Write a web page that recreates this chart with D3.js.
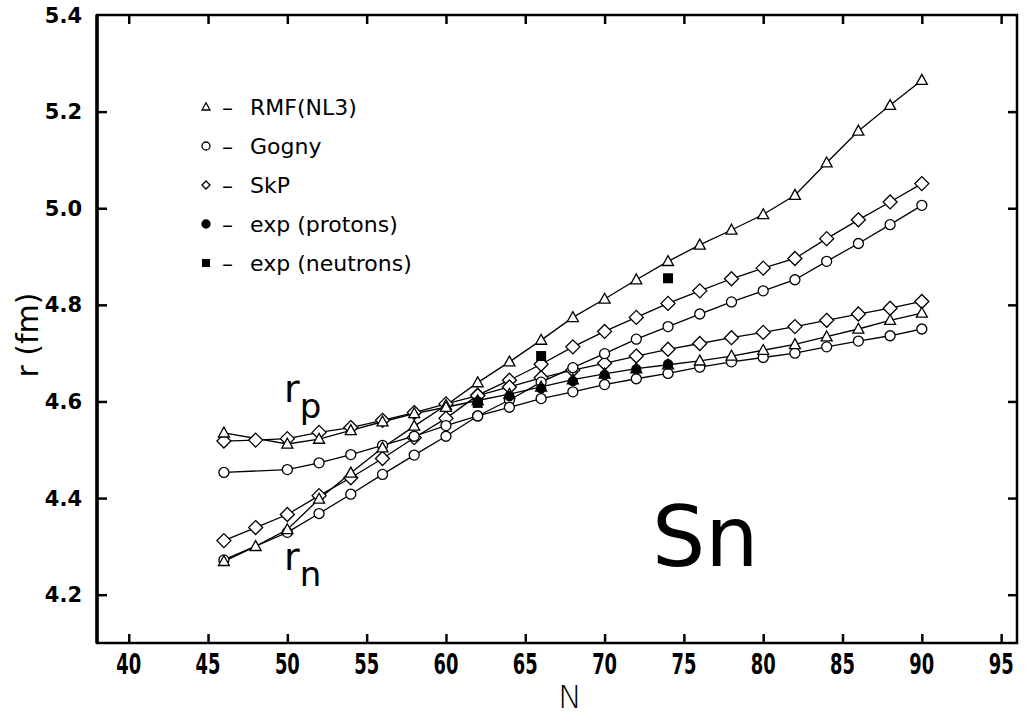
<!DOCTYPE html>
<html>
<head>
<meta charset="utf-8">
<script src="https://cdn.jsdelivr.net/npm/d3@7"></script>
<style>
  body { margin: 0; background: #fff; }
  svg { font-family: "DejaVu Sans", sans-serif; }
</style>
</head>
<body>
<div id="container"></div>
<script>
// neutron numbers of the Sn isotopes
const N = [46, 48, 50, 52, 54, 56, 58, 60, 62, 64, 66, 68, 70, 72, 74, 76, 78, 80, 82, 84, 86, 88, 90];

// RMF(NL3)
const rmfRn = [4.269, 4.300, 4.335, 4.398, 4.452, 4.504, 4.549, 4.592, 4.639, 4.682, 4.727, 4.774, 4.812, 4.852, 4.890, 4.924, 4.955, 4.987, 5.027, 5.094, 5.160, 5.213, 5.265];
const rmfRp = [4.535, null, 4.512, 4.522, 4.540, 4.558, 4.575, 4.588, 4.602, 4.615, 4.630, 4.645, 4.657, 4.668, 4.676, 4.684, 4.694, 4.706, 4.718, 4.734, 4.750, 4.768, 4.783];
// Gogny
const gognyRn = [4.272, null, 4.329, 4.368, 4.408, 4.449, 4.489, 4.528, 4.570, 4.603, 4.640, 4.670, 4.699, 4.729, 4.755, 4.781, 4.806, 4.829, 4.852, 4.890, 4.927, 4.966, 5.006];
const gognyRp = [4.453, null, 4.459, 4.473, 4.490, 4.509, 4.528, 4.550, 4.570, 4.588, 4.606, 4.620, 4.635, 4.647, 4.658, 4.671, 4.682, 4.691, 4.700, 4.713, 4.725, 4.736, 4.750];
// SkP
const skpRn = [4.312, 4.339, 4.366, 4.405, 4.442, 4.482, 4.525, 4.565, 4.613, 4.644, 4.677, 4.713, 4.745, 4.774, 4.803, 4.829, 4.854, 4.876, 4.896, 4.937, 4.976, 5.013, 5.051];
const skpRp = [4.518, 4.520, 4.523, 4.536, 4.546, 4.561, 4.577, 4.595, 4.612, 4.630, 4.649, 4.665, 4.679, 4.694, 4.708, 4.720, 4.732, 4.743, 4.755, 4.768, 4.781, 4.793, 4.807];

// experiment
const expProtonN = [62, 64, 66, 68, 70, 72, 74];
const expProton = [4.600, 4.611, 4.627, 4.642, 4.655, 4.667, 4.677];
const expNeutronN = [62, 66, 74];
const expNeutron = [4.597, 4.694, 4.855];

const xTicks = [40, 45, 50, 55, 60, 65, 70, 75, 80, 85, 90, 95];
const yTicks = [4.2, 4.4, 4.6, 4.8, 5.0, 5.2, 5.4];

const legendLabels = ["RMF(NL3)", "Gogny", "SkP", "exp (protons)", "exp (neutrons)"];
const legendSymbols = ["triangle", "circle", "diamond", "dot", "square"];

const w = 1027, h = 715;
const padLeft = 97, padRight = 1017, padTop = 15, padBottom = 643;

const svg = d3.select("#container").append("svg")
  .attr("width", w)
  .attr("height", h);

const x = d3.scaleLinear().domain([38, 96]).range([padLeft, padRight]);
const y = d3.scaleLinear().domain([4.1, 5.4]).range([padBottom, padTop]);

// frame
svg.append("rect")
  .attr("x", padLeft).attr("y", padTop)
  .attr("width", padRight - padLeft).attr("height", padBottom - padTop)
  .attr("fill", "none").attr("stroke", "#000").attr("stroke-width", 2.5);
svg.append("line")
  .attr("x1", padLeft).attr("x2", padLeft)
  .attr("y1", padTop).attr("y2", padBottom)
  .attr("stroke", "#000").attr("stroke-width", 3.5);

// axes with inward ticks
const fmt = d3.format(".1f");
const innerY = yTicks.filter(t => t < 5.35);
const yAxisL = svg.append("g")
  .attr("transform", `translate(${padLeft},0)`)
  .call(d3.axisRight(y).tickValues(innerY).tickSize(10).tickFormat(""));
const yAxisR = svg.append("g")
  .attr("transform", `translate(${padRight},0)`)
  .call(d3.axisLeft(y).tickValues(innerY).tickSize(9).tickFormat(""));
const xAxisB = svg.append("g")
  .attr("transform", `translate(0,${padBottom})`)
  .call(d3.axisTop(x).tickValues(xTicks).tickSize(9).tickFormat(""));
const xAxisT = svg.append("g")
  .attr("transform", `translate(0,${padTop})`)
  .call(d3.axisBottom(x).tickValues(xTicks).tickSize(9).tickFormat(""));
[yAxisL, yAxisR, xAxisB, xAxisT].forEach(g => {
  g.select(".domain").remove();
  g.selectAll(".tick line").attr("stroke", "#000").attr("stroke-width", 2.5);
});

// tick labels
svg.append("g").selectAll("text")
  .data(yTicks)
  .enter()
  .append("text")
  .attr("x", padLeft - 15)
  .attr("y", d => y(d))
  .attr("dy", "0.36em")
  .attr("text-anchor", "end")
  .attr("font-size", 21)
  .attr("font-weight", "bold")
  .text(d => fmt(d));

svg.append("g").selectAll("text")
  .data(xTicks)
  .enter()
  .append("text")
  .attr("transform", d => `translate(${x(d)},674) scale(0.64,1)`)
  .attr("text-anchor", "middle")
  .attr("font-size", 28)
  .attr("font-weight", "bold")
  .text(d => d);

svg.append("text")
  .attr("x", 570).attr("y", 708)
  .attr("text-anchor", "middle")
  .attr("font-size", 32)
  .attr("font-weight", 300)
  .text("N");

svg.append("text")
  .attr("transform", `translate(38,${335}) rotate(-90)`)
  .attr("text-anchor", "middle")
  .attr("font-size", 30)
  .text("r (fm)");

// symbols
const size = { triangle: 5.5, circle: 5, diamond: 7, dot: 4.5, square: 5 };
function drawSymbol(g, type, cx, cy, s) {
  if (type === "circle" || type === "dot") {
    g.append("circle").attr("cx", cx).attr("cy", cy).attr("r", s)
      .attr("fill", type === "dot" ? "#000" : "#fff")
      .attr("stroke", "#000").attr("stroke-width", 1.3);
  } else if (type === "triangle") {
    g.append("path")
      .attr("d", `M${cx},${cy - s * 1.05}L${cx + s},${cy + s * 0.75}L${cx - s},${cy + s * 0.75}Z`)
      .attr("fill", "#fff").attr("stroke", "#000").attr("stroke-width", 1.3);
  } else if (type === "diamond") {
    g.append("path")
      .attr("d", `M${cx},${cy - s}L${cx + s},${cy}L${cx},${cy + s}L${cx - s},${cy}Z`)
      .attr("fill", "#fff").attr("stroke", "#000").attr("stroke-width", 1.3);
  } else if (type === "square") {
    g.append("rect").attr("x", cx - s).attr("y", cy - s)
      .attr("width", 2 * s).attr("height", 2 * s).attr("fill", "#000");
  }
}

const series = [
  { values: skpRn, sym: "diamond" },
  { values: skpRp, sym: "diamond" },
  { values: gognyRn, sym: "circle" },
  { values: gognyRp, sym: "circle" },
  { values: rmfRn, sym: "triangle" },
  { values: rmfRp, sym: "triangle" }
];

const line = d3.line().x(d => x(d[0])).y(d => y(d[1]));
const plot = svg.append("g");

series.forEach(s => {
  s.pts = N.map((n, i) => [n, s.values[i]]).filter(d => d[1] != null);
  plot.append("path")
    .attr("d", line(s.pts))
    .attr("fill", "none")
    .attr("stroke", "#000")
    .attr("stroke-width", 1.3);
});
series.forEach(s => {
  s.pts.forEach(d => drawSymbol(plot, s.sym, x(d[0]), y(d[1]), size[s.sym]));
});
expProtonN.forEach((n, i) => drawSymbol(plot, "dot", x(n), y(expProton[i]), size.dot));
expNeutronN.forEach((n, i) => drawSymbol(plot, "square", x(n), y(expNeutron[i]), size.square));

// legend
const legend = svg.append("g");
legendLabels.forEach((label, i) => {
  const ly = 107 + i * 39;
  drawSymbol(legend, legendSymbols[i], 206, ly, 4);
  legend.append("text").attr("x", 222).attr("y", ly).attr("dy", "0.36em")
    .attr("font-size", 22).text("–");
  legend.append("text").attr("x", 250).attr("y", ly).attr("dy", "0.36em")
    .attr("font-size", 22).text(label);
});

// curve labels
function sublabel(xp, yp, sub) {
  const t = svg.append("text").attr("x", xp).attr("y", yp).attr("font-size", 38);
  t.append("tspan").text("r");
  t.append("tspan").attr("dy", 16).attr("font-size", 34).text(sub);
}
sublabel(284, 402, "p");
sublabel(284, 570, "n");

svg.append("text")
  .attr("x", 652).attr("y", 566)
  .attr("font-size", 84)
  .text("Sn");
</script>
</body>
</html>
